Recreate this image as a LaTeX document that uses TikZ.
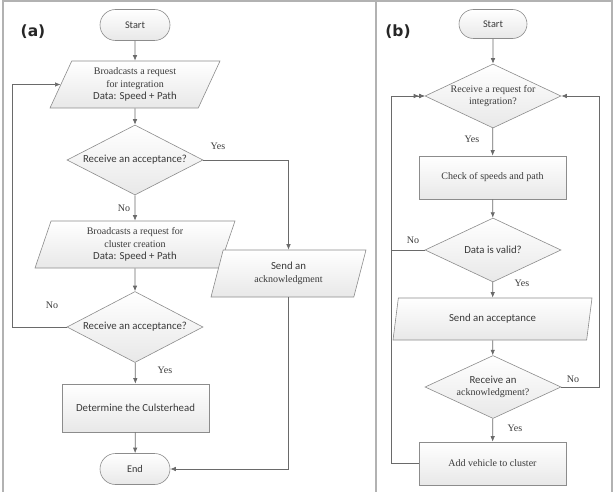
\documentclass[tikz,border=0pt]{standalone}
\usepackage{fontspec}
\setmainfont{Liberation Serif}
\newfontfamily\calib{Carlito}[Scale=1.08]
\newfontfamily\tagfont{DejaVu Sans}
\usetikzlibrary{shapes.geometric,shapes.misc,arrows.meta}
\definecolor{ink}   {HTML}{3A3A3A}
\definecolor{edgec} {HTML}{6A6A6A}
\definecolor{rim}   {HTML}{8C8C8C}
\definecolor{framec}{HTML}{B2B2B2}
\tikzset{
  >={Latex[length=5.5pt,width=4.5pt]},
  every node/.style={font=\fontsize{10}{12.5}\selectfont, text=ink},
  % --- nodes
  box/.style  = {draw=rim, top color=white, bottom color=black!9, align=center,
                 inner sep=2pt, line width=0.6pt},
  term/.style = {box, rounded rectangle, minimum width=74pt, minimum height=31pt,
                 font=\fontsize{9.5}{12.5}\calib},
  proc/.style = {box, rectangle, minimum width=147pt},
  dec/.style  = {box, diamond, aspect=2, inner sep=0pt, minimum width=136pt},
  io/.style   = {box, trapezium, trapezium stretches body},
  lbl/.style  = {font=\fontsize{10}{11}\selectfont, text=ink},
  tag/.style  = {font=\fontsize{15.5}{18}\tagfont\bfseries, text=black!85},
  % --- edges
  e/.style    = {->, draw=edgec, line width=0.7pt},
  ee/.style   = {-{Latex[length=5.5pt,width=4.5pt]Latex[length=5.5pt,width=4.5pt]},
                 draw=edgec, line width=0.7pt},
  fr/.style   = {draw=framec, line width=1.3pt},
}

\begin{document}
\begin{tikzpicture}[x=1pt,y=-1pt]
  \useasboundingbox (0,0) rectangle (616,492);
  % panels
  \draw[fr] (3,493) |- (612,1) -- (612,493);
  \draw[fr] (376,1) -- (376,493);
  \node[tag] (ta) at (33,32) {(a)};
  \node[tag] (tb) at (398,32) {(b)};

  % --- (a)
  \node[term] (s1) at (135,25) {Start};
  \node[io, minimum width=170pt, minimum height=47pt, trapezium left angle=60,
        trapezium right angle=120] (p1) at (135,84.5)
       {Broadcasts a request\\for integration\\{\calib Data: Speed + Path}};
  \node[dec, minimum height=70pt] (d1) at (135,160) {\calib Receive an acceptance?};
  \node[io, minimum width=200pt, minimum height=47pt, trapezium left angle=67,
        trapezium right angle=113] (p2) at (135,244.5)
       {Broadcasts a request for\\cluster creation\\{\calib Data: Speed + Path}};
  \node[io, minimum width=155pt, minimum height=47pt, trapezium left angle=65,
        trapezium right angle=115] (ack) at (288.5,273.5)
       {{\calib Send an}\\acknowledgment};
  \node[dec, minimum height=71pt] (d2) at (135,327) {\calib Receive an acceptance?};
  \node[proc, minimum height=48pt] (ch) at (135.5,408) {\calib Determine the Culsterhead};
  \node[term] (en) at (135,469) {End};

  \draw[e] (s1) -- (p1);
  \draw[e] (p1) -- (d1);
  \draw[e] (d1) -- (p2);
  \draw[e] (d1.east) -| (ack);
  \draw[e] (p2) -- (d2);
  \draw[e] (d2.west) -- ++(-54,0) |- (p1.left side);
  \draw[e] (d2) -- (ch);
  \draw[e] (ch) -- (en);
  \draw[e] (ack) |- (en);
  \node[lbl] (ya1) at (218,146) {Yes};
  \node[lbl] (na1) at (124,208) {No};
  \node[lbl] (na2) at (52,305) {No};
  \node[lbl] (ya2) at (165,370) {Yes};

  % --- (b)
  \node[term, minimum width=72pt, minimum height=29pt] (s2) at (493,24) {Start};
  \node[dec, minimum height=64pt] (d3) at (493,96) {Receive a request for\\integration?};
  \node[proc, minimum height=43pt] (r1) at (492.5,177.5) {Check of speeds and path};
  \node[dec, minimum height=64pt] (d4) at (493,250) {\calib Data is valid?};
  \node[io, minimum width=199pt, minimum height=42pt, trapezium left angle=68,
        trapezium right angle=112] (p3) at (492.5,319) {\calib Send an acceptance};
  \node[dec, minimum height=63pt] (d5) at (493,387) {{\calib Receive an}\\acknowledgment?};
  \node[proc, minimum height=43pt] (r2) at (492.5,463.5) {Add vehicle to cluster};

  \draw[e] (s2) -- (d3);
  \draw[e] (d3) -- (r1);
  \draw[e] (r1) -- (d4);
  \draw[e] (d4) -- (p3);
  \draw[e] (p3) -- (d5);
  \draw[e] (d5) -- (r2);
  \draw[e] (d4.west) -- ++(-33,0) |- (d3.west);
  \draw[ee] (r2.west) -- ++(-27,0) |- (d3.west);
  \draw[e] (d5.east) -- ++(38,0) |- (d3.east);
  \node[lbl] (yb1) at (472,139) {Yes};
  \node[lbl] (nb1) at (413,240) {No};
  \node[lbl] (yb2) at (522,283) {Yes};
  \node[lbl] (nb2) at (573,379) {No};
  \node[lbl] (yb3) at (515,428) {Yes};
\end{tikzpicture}
\end{document}
